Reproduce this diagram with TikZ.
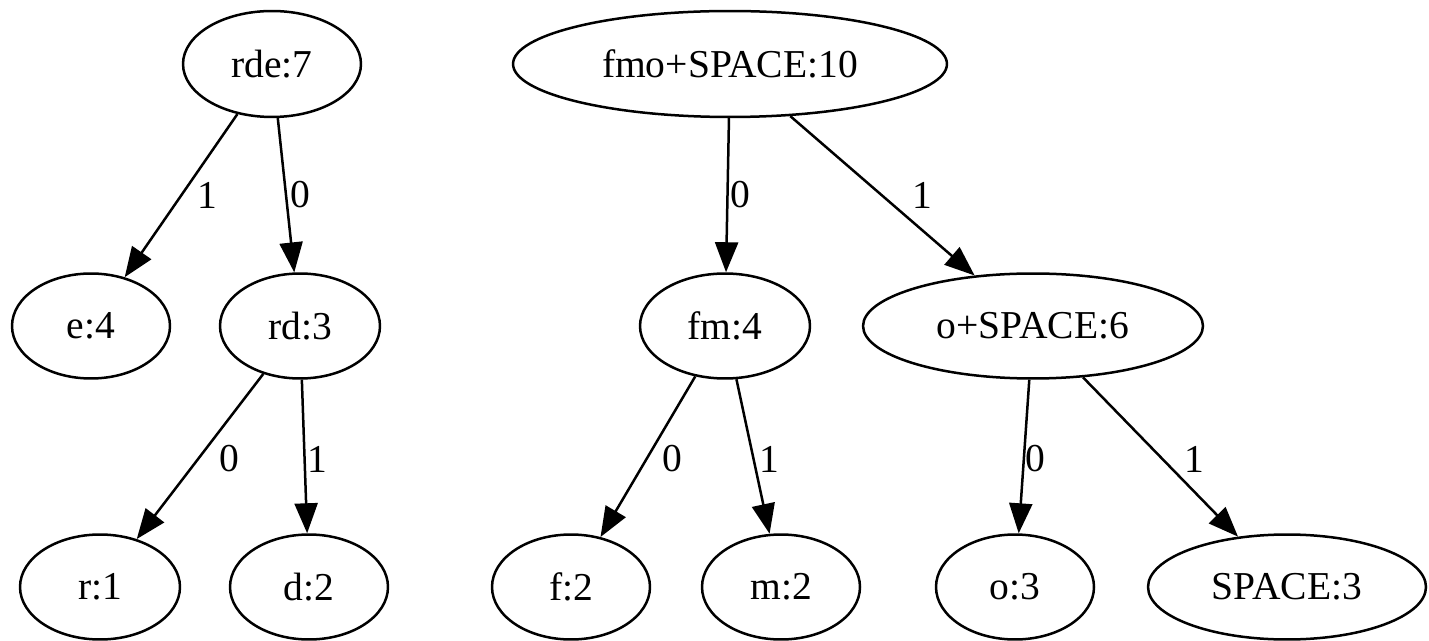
\documentclass[tikz,border=0pt]{standalone}
\usepackage{fontspec}
\setmainfont{Liberation Serif}
\usetikzlibrary{shapes.geometric,arrows.meta}

\tikzset{
  tnode/.style={ellipse, draw, line width=0.05cm, inner sep=0pt,
    minimum height=2.1cm, minimum width=3.16cm,
    font=\fontsize{22.5}{27}\selectfont},
  tedge/.style={line width=0.05cm,
    -{Triangle[length=0.6cm, width=0.46cm]}},
  bit/.style={inner sep=0pt, font=\fontsize{22.5}{27}\selectfont}
}

\begin{document}
\begin{tikzpicture}[x=0.02cm, y=-0.02cm]
  \useasboundingbox (0,0) rectangle (1429,641);

  % left tree
  \node[tnode, minimum width=3.56cm, minimum height=2.12cm] (rde) at (272,64) {rde:7};
  \node[tnode] (e4)  at (91,326)  {e:4};
  \node[tnode, minimum width=3.2cm] (rd3) at (300,326) {rd:3};
  \node[tnode, minimum width=3.2cm] (r1)  at (100,587) {r:1};
  \node[tnode] (d2)  at (309,587) {d:2};

  % right tree
  \node[tnode, minimum width=8.68cm, minimum height=2.12cm] (fmo) at (730,64) {fmo+SPACE:10};
  \node[tnode, minimum width=3.4cm] (fm4) at (725,326) {fm:4};
  \node[tnode, minimum width=6.8cm] (os6) at (1033,326) {o+SPACE:6};
  \node[tnode] (f2)  at (571,587) {f:2};
  \node[tnode] (m2)  at (781,587) {m:2};
  \node[tnode] (o3)  at (1015,587) {o:3};
  \node[tnode, minimum width=5.56cm] (sp3) at (1287,587) {SPACE:3};

  % connectors
  \draw[tedge] (rde) -- (e4);
  \draw[tedge] (rde) -- (rd3);
  \draw[tedge] (rd3) -- (r1);
  \draw[tedge] (rd3) -- (d2);
  \draw[tedge] (fmo) -- (fm4);
  \draw[tedge] (fmo) -- (os6);
  \draw[tedge] (fm4) -- (f2);
  \draw[tedge] (fm4) -- (m2);
  \draw[tedge] (os6) -- (o3);
  \draw[tedge] (os6) -- (sp3);

  % edge labels
  \node[bit] (b1)  at (207,195)  {1};
  \node[bit] (b2)  at (300,195)  {0};
  \node[bit] (b3)  at (740,195)  {0};
  \node[bit] (b4)  at (922,195)  {1};
  \node[bit] (b5)  at (229,459)  {0};
  \node[bit] (b6)  at (317,459)  {1};
  \node[bit] (b7)  at (672,459)  {0};
  \node[bit] (b8)  at (769,459)  {1};
  \node[bit] (b9)  at (1035,459) {0};
  \node[bit] (b10) at (1194,459) {1};
\end{tikzpicture}
\end{document}
